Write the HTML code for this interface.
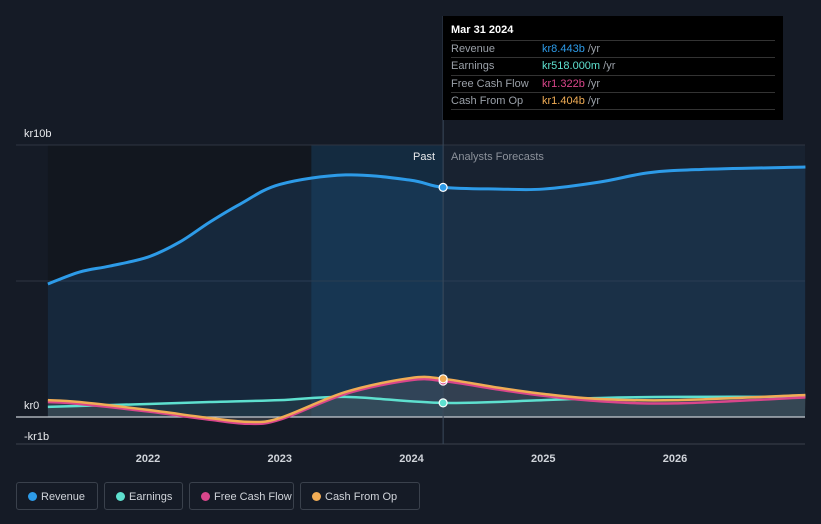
<!DOCTYPE html>
<html><head><meta charset="utf-8"><style>
body{margin:0;background:#151b26;width:821px;height:524px;overflow:hidden;font-family:"Liberation Sans",sans-serif}
.leg{position:absolute;top:482px;height:28px;border:1px solid #3a414c;border-radius:3px;color:#d0d4da;font-size:11px;line-height:28px;box-sizing:border-box;padding-left:24px;white-space:nowrap;overflow:hidden}
.leg i{position:absolute;left:11px;top:9px;width:9px;height:9px;border-radius:50%}
.tip{position:absolute;left:443px;top:16px;width:340px;height:104px;background:#000;color:#fff;font-size:11px}
.row{position:absolute;left:8px;width:324px;border-top:1px solid #333;height:17px;line-height:17px;color:#9aa0a8}
.row span{position:absolute;left:91px}
</style></head><body>
<svg id="c" width="821" height="524" style="position:absolute;left:0;top:0"></svg>
<div class="tip">
<div style="position:absolute;left:8px;top:8px;font-weight:bold;font-size:11px">Mar 31 2024</div>
<div class="row" style="top:24px">Revenue<span><b style="font-weight:normal;color:#2d9be8">kr8.443b</b> /yr</span></div>
<div class="row" style="top:41px">Earnings<span><b style="font-weight:normal;color:#5ee0cf">kr518.000m</b> /yr</span></div>
<div class="row" style="top:59px">Free Cash Flow<span><b style="font-weight:normal;color:#d9468b">kr1.322b</b> /yr</span></div>
<div class="row" style="top:76px">Cash From Op<span><b style="font-weight:normal;color:#f0ac55">kr1.404b</b> /yr</span></div>
<div class="row" style="top:93px;height:0"></div>
</div>
<div class="leg" style="left:16px;width:82px"><i style="background:#2d9be8"></i>Revenue</div>
<div class="leg" style="left:104px;width:79px"><i style="background:#5ee0cf"></i>Earnings</div>
<div class="leg" style="left:189px;width:105px"><i style="background:#d9468b"></i>Free Cash Flow</div>
<div class="leg" style="left:300px;width:120px"><i style="background:#f0ac55"></i>Cash From Op</div>
<script>
const revT=[2021.24,2021.48,2021.71,2022,2022.24,2022.47,2022.7,2023,2023.5,2023.99,2024.24,2024.67,2025,2025.43,2025.8,2026.2,2026.99];
const revV=[4.89,5.33,5.55,5.88,6.43,7.17,7.83,8.55,8.9,8.71,8.443,8.38,8.38,8.64,8.98,9.1,9.19];
const earnT=[2021.24,2022,2022.47,2023,2023.5,2024.24,2025,2025.43,2026,2026.99];
const earnV=[0.37,0.48,0.55,0.62,0.74,0.518,0.62,0.7,0.74,0.74];
const cfoT=[2021.24,2021.48,2022,2022.47,2022.77,2023,2023.5,2023.99,2024.24,2024.67,2025,2025.43,2026,2026.99];
const cfoV=[0.62,0.55,0.26,-0.04,-0.18,-0.04,0.92,1.43,1.404,1.07,0.85,0.66,0.62,0.81];
const fcfV=[0.55,0.48,0.2,-0.1,-0.25,-0.1,0.85,1.35,1.322,1.0,0.78,0.58,0.5,0.72];
const xTicks=[2022,2023,2024,2025,2026];
const yLabels=[["kr10b",10],["kr0",0],["-kr1b",-1]];
const X=t=>148+(t-2022)*131.75, Y=v=>417-v*27.2;
const s=document.getElementById('c'),NS='http://www.w3.org/2000/svg';
function el(tag,a,name){const e=document.createElementNS(NS,tag);for(const k in a)e.setAttribute(k,a[k]);


s.appendChild(e);return e;}
function path(T,V){const p=T.map((t,i)=>[X(t),Y(V[i])]);let d='M'+p[0];
for(let i=0;i<p.length-1;i++){const p0=p[i-1]||p[i],p1=p[i],p2=p[i+1],p3=p[i+2]||p2;
d+=`C${p1[0]+(p2[0]-p0[0])/6},${p1[1]+(p2[1]-p0[1])/6} ${p2[0]-(p3[0]-p1[0])/6},${p2[1]-(p3[1]-p1[1])/6} ${p2[0]},${p2[1]}`;}return d;}
const x0=X(revT[0]),xe=805,xn=X(2024.24);
el('rect',{x:x0,y:145,width:X(2023.24)-x0,height:272,fill:'#12171f'},'past-bg');
el('rect',{x:X(2023.24),y:145,width:xn-X(2023.24),height:272,fill:'#142b40'},'past-year-highlight');
el('rect',{x:xn,y:145,width:xe-xn,height:272,fill:'#182230'},'forecast-bg');
[145,281].forEach(y=>el('line',{x1:16,x2:805,y1:y,y2:y,stroke:'#2e3642'},'gridline'));
const rp=path(revT,revV);
el('path',{d:rp+`L${xe},417L${x0},417Z`,fill:'#1f4e78',opacity:0.32},'revenue-area');
el('path',{d:path(cfoT,cfoV)+`L${xe},417L${x0},417Z`,fill:'#5a5a62',opacity:0.4},'cfo-area');
el('path',{d:path(earnT,earnV)+`L${xe},417L${x0},417Z`,fill:'#3a5a60',opacity:0.25},'earnings-area');
el('line',{x1:16,x2:805,y1:417,y2:417,stroke:'#c8ccd2','stroke-width':1.2},'zero-line');
el('line',{x1:16,x2:805,y1:444,y2:444,stroke:'#3a414c'},'x-axis-line');
el('line',{x1:xn,x2:xn,y1:16,y2:444,stroke:'#3a4a5c'},'today-line');
el('path',{d:rp,fill:'none',stroke:'#2d9be8','stroke-width':3},'revenue-line');
el('path',{d:path(earnT,earnV),fill:'none',stroke:'#5ee0cf','stroke-width':2.5},'earnings-line');
el('path',{d:path(cfoT,fcfV),fill:'none',stroke:'#d9468b','stroke-width':2.5},'fcf-line');
el('path',{d:path(cfoT,cfoV),fill:'none',stroke:'#f0ac55','stroke-width':2.5},'cfo-line');
el('circle',{cx:xn,cy:Y(8.443),r:4,fill:'#2d9be8',stroke:'#fff','stroke-width':1.2},'revenue-marker');
el('circle',{cx:xn,cy:Y(0.518),r:4,fill:'#5ee0cf',stroke:'#fff','stroke-width':1.2},'earnings-marker');
el('circle',{cx:xn,cy:Y(1.322),r:4,fill:'#d9468b',stroke:'#fff','stroke-width':1.2},'fcf-marker');
el('circle',{cx:xn,cy:Y(1.404),r:4,fill:'#f0ac55',stroke:'#fff','stroke-width':1.2},'cfo-marker');
xTicks.forEach(t=>{const e=el('text',{x:X(t),y:462,fill:'#d0d4da','font-size':11,'text-anchor':'middle','font-weight':'bold'},'x-tick-label');e.textContent=t;});
yLabels.forEach(([l,v])=>{const e=el('text',{x:24,y:Y(v)-8+(v<0?4:0),fill:'#e8eaed','font-size':11},'y-tick-label');e.textContent=l;});
let e=el('text',{x:435,y:160,fill:'#e8eaed','font-size':11,'text-anchor':'end'},'past-label');e.textContent='Past';
e=el('text',{x:451,y:160,fill:'#8c929b','font-size':11},'forecast-label');e.textContent='Analysts Forecasts';
</script>
</body></html>
